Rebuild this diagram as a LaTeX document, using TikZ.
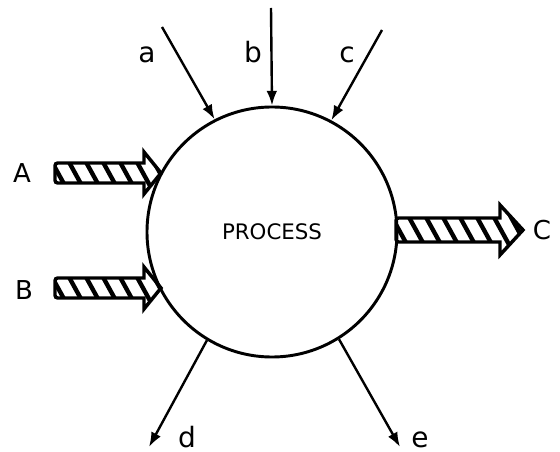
\documentclass[tikz,border=0pt]{standalone}
\usepackage{fontspec}
\setmainfont{DejaVu Sans}
\usetikzlibrary{arrows.meta}
\tikzset{
  thinarrow/.style={line width=1.8pt,-{Latex[length=11pt,width=8pt]}},
  hatchline/.style={line width=2.6pt,line join=miter},
  lowerlbl/.style={font=\fontsize{21}{24}\selectfont,anchor=base,inner sep=0pt},
  upperlbl/.style={font=\fontsize{19.5}{22}\selectfont,anchor=base,inner sep=0pt},
}
% #1 x0, #2 head base x, #3 tip x, #4 centre y, #5 body half height, #6 head half height
\newcommand\hatcharrow[6]{%
  \begin{scope}
    \clip (#1,#4-#5) -- (#2,#4-#5) -- (#2,#4-#6) -- (#3,#4) -- (#2,#4+#6) -- (#2,#4+#5) -- (#1,#4+#5) -- cycle;
    \foreach \s in {0,17,...,190}
      \fill ({#1+\s-16},{#4-30}) -- ++(5,0) -- ++(33,60) -- ++(-5,0) -- cycle;
  \end{scope}
  \draw[hatchline] (#1+2,#4-#5) -- (#2,#4-#5) -- (#2,#4-#6) -- (#3,#4) -- (#2,#4+#6) -- (#2,#4+#5) -- (#1+2,#4+#5)
    [rounded corners=2] -- (#1,#4+#5) -- (#1,#4-#5) -- (#1+2,#4-#5);
}
\begin{document}
\begin{tikzpicture}[x=0.75pt,y=-0.75pt]
  \useasboundingbox (0,0) rectangle (560,452);
  \node[draw,circle,line width=2.2pt,minimum size=187.5pt,inner sep=0pt,
        font=\fontsize{16}{18}\selectfont] (P) at (272,232) {PROCESS};

  % hatched flows
  \hatcharrow{55}{144}{161}{173}{10}{21}
  \hatcharrow{55}{144}{161}{288}{10}{21}
  \hatcharrow{396}{500}{523}{230}{12}{25}

  % thin arrows
  \coordinate (a0) at (162,27);
  \coordinate (b0) at (271,8);
  \coordinate (c0) at (382,30);
  \coordinate (d1) at (149,447);
  \coordinate (e1) at (400,447);
  \draw[thinarrow] (a0) -- (P.117.8);
  \draw[thinarrow] (b0) -- (P.90);
  \draw[thinarrow] (c0) -- (P.62.4);
  \draw[thinarrow] (P.239) -- (d1);
  \draw[thinarrow] (P.302) -- (e1);

  % labels
  \node[lowerlbl] (la) at (147,63) {a};
  \node[lowerlbl] (lb) at (253,63) {b};
  \node[lowerlbl] (lc) at (347,63) {c};
  \node[lowerlbl] (ld) at (187,447) {d};
  \node[lowerlbl] (le) at (420,447) {e};
  \node[upperlbl] (lA) at (22,183) {A};
  \node[upperlbl] (lB) at (24,299) {B};
  \node[upperlbl] (lC) at (542,239) {C};
\end{tikzpicture}
\end{document}
